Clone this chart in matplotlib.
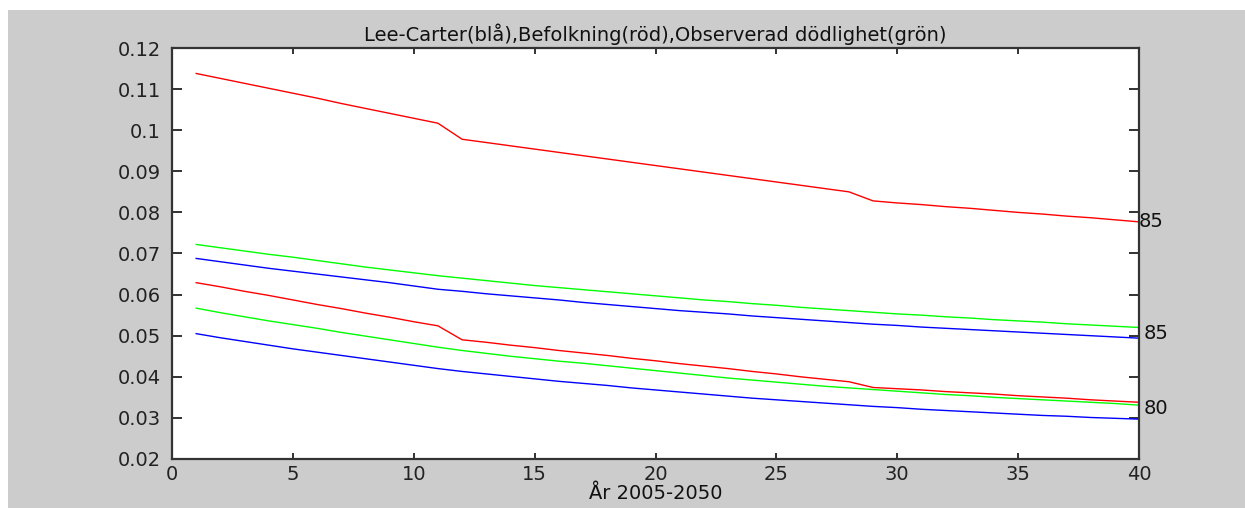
import numpy as np
import matplotlib
matplotlib.use('Agg')
import matplotlib.pyplot as plt
from matplotlib.patches import Rectangle
from matplotlib.ticker import FormatStrFormatter

# years 1..40 (2005-2050)
years = list(range(1, 41))

# Befolkning (red)
red_85 = [0.1138, 0.1126, 0.1114, 0.1102, 0.1090, 0.1078, 0.1065, 0.1053, 0.1041, 0.1029,
          0.1017, 0.0978, 0.0970, 0.0962, 0.0954, 0.0946, 0.0938, 0.0930, 0.0922, 0.0914,
          0.0906, 0.0898, 0.0890, 0.0882, 0.0874, 0.0866, 0.0858, 0.0850, 0.0828, 0.0823,
          0.0819, 0.0814, 0.0810, 0.0805, 0.0800, 0.0796, 0.0791, 0.0787, 0.0782, 0.0777]
red_80 = [0.0629, 0.0619, 0.0608, 0.0598, 0.0587, 0.0576, 0.0566, 0.0555, 0.0545, 0.0534,
          0.0524, 0.0490, 0.0484, 0.0477, 0.0471, 0.0464, 0.0458, 0.0452, 0.0445, 0.0439,
          0.0432, 0.0426, 0.0420, 0.0413, 0.0407, 0.0400, 0.0394, 0.0388, 0.0374, 0.0371,
          0.0368, 0.0364, 0.0361, 0.0358, 0.0354, 0.0351, 0.0348, 0.0344, 0.0341, 0.0338]

# Observerad dodlighet (green)
green_85 = [0.0722, 0.0714, 0.0706, 0.0698, 0.0691, 0.0683, 0.0675, 0.0667, 0.0660, 0.0653,
            0.0646, 0.0640, 0.0634, 0.0628, 0.0622, 0.0617, 0.0612, 0.0607, 0.0602, 0.0597,
            0.0592, 0.0587, 0.0583, 0.0578, 0.0574, 0.0569, 0.0565, 0.0561, 0.0557, 0.0553,
            0.0550, 0.0546, 0.0543, 0.0539, 0.0536, 0.0533, 0.0529, 0.0526, 0.0523, 0.0520]
green_80 = [0.0567, 0.0556, 0.0546, 0.0536, 0.0527, 0.0518, 0.0508, 0.0499, 0.0490, 0.0481,
            0.0472, 0.0464, 0.0457, 0.0450, 0.0444, 0.0438, 0.0433, 0.0427, 0.0421, 0.0415,
            0.0409, 0.0403, 0.0397, 0.0392, 0.0387, 0.0382, 0.0377, 0.0373, 0.0369, 0.0365,
            0.0361, 0.0357, 0.0354, 0.0350, 0.0347, 0.0344, 0.0341, 0.0338, 0.0335, 0.0331]

# Lee-Carter (blue)
blue_85 = [0.0688, 0.0680, 0.0672, 0.0664, 0.0657, 0.0650, 0.0643, 0.0636, 0.0629, 0.0621,
           0.0613, 0.0608, 0.0602, 0.0597, 0.0592, 0.0587, 0.0581, 0.0576, 0.0571, 0.0566,
           0.0561, 0.0557, 0.0553, 0.0548, 0.0544, 0.0540, 0.0536, 0.0532, 0.0528, 0.0525,
           0.0521, 0.0518, 0.0515, 0.0512, 0.0509, 0.0506, 0.0503, 0.0500, 0.0497, 0.0494]
blue_80 = [0.0505, 0.0495, 0.0486, 0.0477, 0.0468, 0.0460, 0.0452, 0.0444, 0.0436, 0.0428,
           0.0420, 0.0413, 0.0407, 0.0401, 0.0395, 0.0389, 0.0384, 0.0379, 0.0373, 0.0368,
           0.0363, 0.0358, 0.0353, 0.0348, 0.0344, 0.0340, 0.0336, 0.0332, 0.0328, 0.0325,
           0.0321, 0.0318, 0.0315, 0.0312, 0.0309, 0.0306, 0.0304, 0.0301, 0.0299, 0.0297]

# end labels: (text, x, y)
end_labels = [('85', 40.0, 0.0777), ('85', 40.2, 0.0506), ('80', 40.2, 0.0322)]

title = 'Lee-Carter(blå),Befolkning(röd),Observerad dödlighet(grön)'
xlabel = 'År 2005-2050'

fs = 14

fig = plt.figure(figsize=(12.45, 5.08), dpi=100, facecolor='white')
# matlab style grey figure area
fig.patches.append(Rectangle((8/1245, 0), 1, 1 - 10/508, transform=fig.transFigure,
                             facecolor='#cccccc', edgecolor='none', zorder=-10))
ax = fig.add_axes([172/1245, 1 - 459/508, (1139 - 172)/1245, (459 - 48)/508])
ax.set_facecolor('white')

lw = 1.0
ax.plot(years, red_85, color='#ff0000', lw=lw)
ax.plot(years, green_85, color='#00ff00', lw=lw)
ax.plot(years, blue_85, color='#0000ff', lw=lw)
ax.plot(years, red_80, color='#ff0000', lw=lw)
ax.plot(years, green_80, color='#00ff00', lw=lw)
ax.plot(years, blue_80, color='#0000ff', lw=lw)

for txt, x, y in end_labels:
    ax.text(x, y, txt, fontsize=fs, ha='left', va='center', color='#111111', clip_on=False)

ax.set_xlim(0, 40)
ax.set_ylim(0.02, 0.12)
ax.set_xticks(range(0, 41, 5))
ax.set_yticks(np.arange(0.02, 0.1201, 0.01))
ax.yaxis.set_major_formatter(FormatStrFormatter('%g'))
ax.tick_params(axis='both', direction='in', top=True, right=True, labelsize=fs,
               colors='#222222', width=1.3)
ax.tick_params(axis='y', length=7, pad=8)
ax.tick_params(axis='x', length=4, pad=4)
for s in ax.spines.values():
    s.set_linewidth(1.6)
    s.set_color('#333333')

ax.set_title(title, fontsize=fs, pad=5, color='#111111')
ax.set_xlabel(xlabel, fontsize=fs, labelpad=0, color='#111111')

fig.savefig('out.png', dpi=100, facecolor=fig.get_facecolor())
